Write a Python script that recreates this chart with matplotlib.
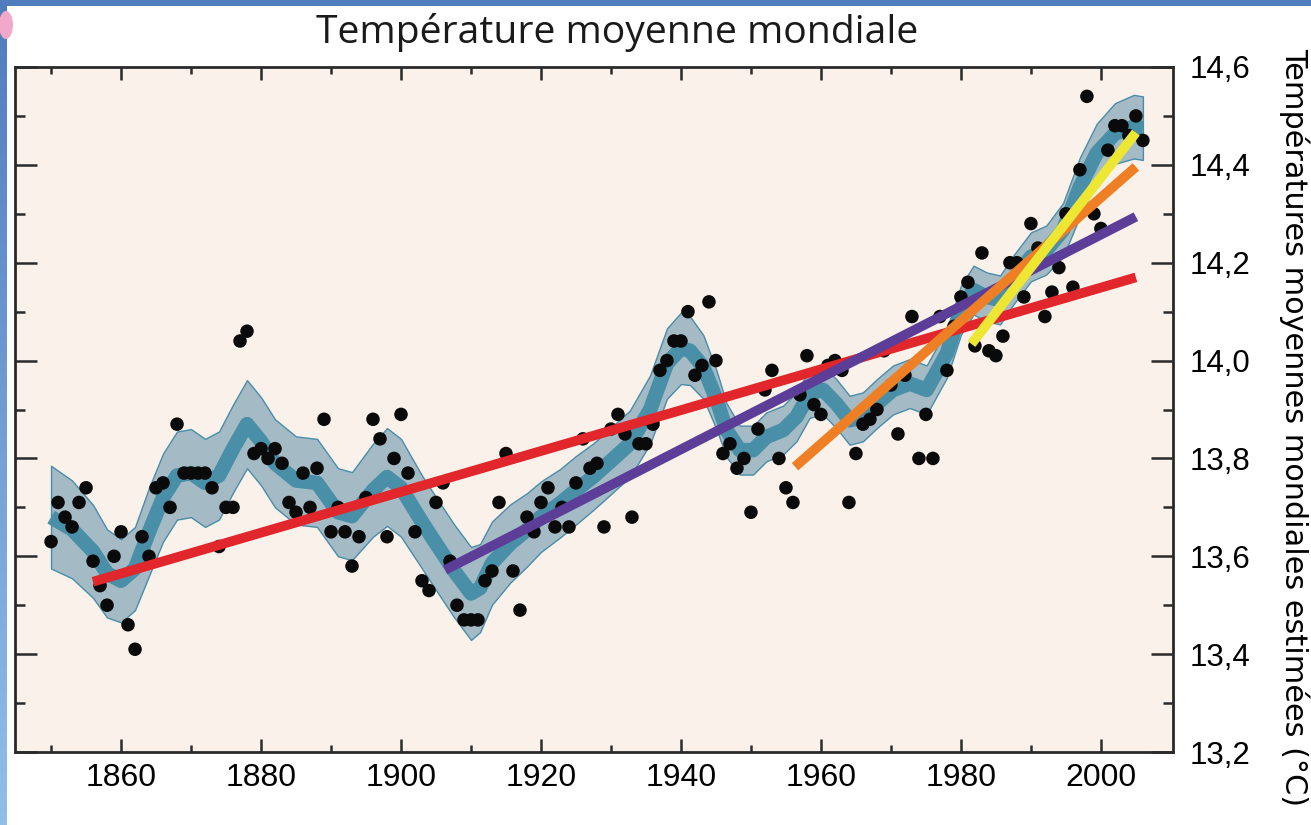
import matplotlib
matplotlib.use("Agg")
import matplotlib.pyplot as plt
from matplotlib.patches import Rectangle, Ellipse
import numpy as np

plt.rcParams["font.family"] = ["Liberation Sans", "DejaVu Sans"]

# ---------------- data ----------------
years = list(range(1850, 2007))
temps = [
    13.63, 13.71, 13.68, 13.66, 13.71, 13.74, 13.59, 13.54, 13.50, 13.60,   # 1850-1859
    13.65, 13.46, 13.41, 13.64, 13.60, 13.74, 13.75, 13.70, 13.87, 13.77,   # 1860-1869
    13.77, 13.77, 13.77, 13.74, 13.62, 13.70, 13.70, 14.04, 14.06, 13.81,   # 1870-1879
    13.82, 13.80, 13.82, 13.79, 13.71, 13.69, 13.77, 13.70, 13.78, 13.88,   # 1880-1889
    13.65, 13.70, 13.65, 13.58, 13.64, 13.72, 13.88, 13.84, 13.64, 13.80,   # 1890-1899
    13.89, 13.77, 13.65, 13.55, 13.53, 13.71, 13.75, 13.59, 13.50, 13.47,   # 1900-1909
    13.47, 13.47, 13.55, 13.57, 13.71, 13.81, 13.57, 13.49, 13.68, 13.65,   # 1910-1919
    13.71, 13.74, 13.66, 13.70, 13.66, 13.75, 13.84, 13.78, 13.79, 13.66,   # 1920-1929
    13.86, 13.89, 13.85, 13.68, 13.83, 13.83, 13.87, 13.98, 14.00, 14.04,   # 1930-1939
    14.04, 14.10, 13.97, 13.99, 14.12, 14.00, 13.81, 13.83, 13.78, 13.80,   # 1940-1949
    13.69, 13.86, 13.94, 13.98, 13.80, 13.74, 13.71, 13.93, 14.01, 13.91,   # 1950-1959
    13.89, 13.99, 14.00, 13.98, 13.71, 13.81, 13.87, 13.88, 13.90, 14.02,   # 1960-1969
    13.95, 13.85, 13.97, 14.09, 13.80, 13.89, 13.80, 14.09, 13.98, 14.07,   # 1970-1979
    14.13, 14.16, 14.03, 14.22, 14.02, 14.01, 14.05, 14.20, 14.20, 14.13,   # 1980-1989
    14.28, 14.23, 14.09, 14.14, 14.19, 14.30, 14.15, 14.39, 14.54, 14.30,   # 1990-1999
    14.27, 14.43, 14.48, 14.48, 14.46, 14.50, 14.45,                        # 2000-2006
]

# smoothed (decadal) curve, with half-width of the light band
smooth_years = [1850, 1853, 1856, 1858, 1860, 1862, 1864, 1866, 1868, 1870,
                1872, 1874, 1876, 1878, 1880, 1882, 1885, 1888, 1891, 1893,
                1896, 1898, 1900, 1903, 1905, 1907.5, 1910, 1911.3, 1913, 1915.6,
                1918, 1920, 1922.7, 1925, 1927.5, 1930, 1932.7, 1935.6, 1938, 1940,
                1941.3, 1943.2, 1945.1, 1946.5, 1948.4, 1950.3, 1952.2, 1954.6, 1956.5, 1958.4,
                1960.3, 1962.2, 1964.1, 1966, 1968, 1970.3, 1972.7, 1975.1, 1978, 1980,
                1981.8, 1983.7, 1985.6, 1987.5, 1990, 1992.2, 1994.6, 1997, 1999.4, 2002,
                2004.7, 2006]
smooth_vals = [13.68, 13.655, 13.61, 13.565, 13.55, 13.575, 13.65, 13.72, 13.765, 13.77,
               13.75, 13.765, 13.82, 13.87, 13.835, 13.79, 13.755, 13.75, 13.69, 13.682,
               13.735, 13.762, 13.74, 13.67, 13.626, 13.572, 13.524, 13.535, 13.586, 13.626,
               13.654, 13.681, 13.708, 13.735, 13.763, 13.795, 13.83, 13.90, 13.994, 14.025,
               14.02, 13.987, 13.919, 13.858, 13.817, 13.817, 13.844, 13.858, 13.885, 13.933,
               13.94, 13.912, 13.878, 13.885, 13.912, 13.94, 13.953, 13.94, 14.015, 14.103,
               14.144, 14.13, 14.124, 14.165, 14.212, 14.226, 14.267, 14.355, 14.424, 14.464,
               14.478, 14.475]
band_halfwidth = [0.105, 0.10, 0.095, 0.09, 0.085, 0.085, 0.09, 0.09, 0.09, 0.09,
                  0.09, 0.09, 0.09, 0.09, 0.09, 0.09, 0.09, 0.09, 0.09, 0.09,
                  0.095, 0.10, 0.10, 0.095, 0.095, 0.095, 0.095, 0.09, 0.085, 0.08,
                  0.075, 0.072, 0.07, 0.07, 0.068, 0.068, 0.068, 0.07, 0.072, 0.073,
                  0.07, 0.065, 0.06, 0.055, 0.05, 0.05, 0.05, 0.05, 0.05, 0.05,
                  0.05, 0.05, 0.05, 0.05, 0.05, 0.05, 0.05, 0.05, 0.05, 0.05,
                  0.05, 0.05, 0.05, 0.05, 0.05, 0.05, 0.055, 0.06, 0.06, 0.062,
                  0.065, 0.065]

# linear trends: (start year, start value), (end year, end value)
trend_red = [(1856, 13.548), (2005, 14.170)]
trend_purple = [(1906.3, 13.572), (2005, 14.294)]
trend_orange = [(1956.3, 13.783), (2005, 14.396)]
trend_yellow = [(1981.5, 14.034), (2005, 14.466)]

xticks = [1860, 1880, 1900, 1920, 1940, 1960, 1980, 2000]
xtick_labels = ["1860", "1880", "1900", "1920", "1940", "1960", "1980", "2000"]
yticks = [13.2, 13.4, 13.6, 13.8, 14.0, 14.2, 14.4, 14.6]
ytick_labels = ["13,2", "13,4", "13,6", "13,8", "14,0", "14,2", "14,4", "14,6"]

title = "Température moyenne mondiale"
ylabel = "Températures moyennes mondiales estimées (°C)"

# ---------------- figure ----------------
W, H = 1311, 825
fig = plt.figure(figsize=(W / 100, H / 100), dpi=100, facecolor="white")

# slide-like border (blue strips + small pink blob)
fig.patches.append(Ellipse((6 / W, 1 - 25 / H), 14 / W, 28 / H, transform=fig.transFigure,
                           facecolor="#F2A9C9", edgecolor="none", zorder=0))
grad = np.linspace(0, 1, 256).reshape(-1, 1)
axl = fig.add_axes([0, 0, 7 / W, 1])
axl.imshow(grad, aspect="auto", cmap=matplotlib.colors.LinearSegmentedColormap.from_list(
    "b", ["#4F7CBD", "#93BEEA"]), extent=[0, 1, 0, 1], origin="upper")
axl.set_axis_off()
fig.patches.append(Rectangle((0, 1 - 6 / H), 1, 6 / H, transform=fig.transFigure,
                             facecolor="#4F7DBE", edgecolor="none", zorder=5))

left, right, top, bottom = 15, 1173, 67, 752
ax = fig.add_axes([left / W, 1 - bottom / H, (right - left) / W, (bottom - top) / H])
ax.set_facecolor("#FAF2EA")

sy = np.array(smooth_years)
sv = np.array(smooth_vals)
hw = np.array(band_halfwidth)
ax.fill_between(sy, sv - hw, sv + hw, facecolor="#A4BAC5", edgecolor="#4A8DA8",
                linewidth=1.0, zorder=2)
ax.plot(sy, sv, color="#4A8FA8", linewidth=10.5, solid_joinstyle="round",
        solid_capstyle="butt", zorder=3)

ax.scatter(years, temps, s=95, color="#0A0A0A", edgecolors="none", zorder=4)

for tr, col, z in [(trend_red, "#E1262C", 5), (trend_purple, "#5C3E98", 6),
                   (trend_orange, "#EF7F25", 7), (trend_yellow, "#EDE734", 8)]:
    ax.plot([tr[0][0], tr[1][0]], [tr[0][1], tr[1][1]], color=col, linewidth=7,
            solid_capstyle="butt", zorder=z)

ax.set_xlim(1844.85, 2010.3)
ax.set_ylim(13.2, 14.6)

ax.set_xticks(xticks)
ax.set_xticklabels(xtick_labels)
ax.set_xticks(np.arange(1850, 2010, 20), minor=True)
ax.set_yticks(yticks)
ax.set_yticklabels(ytick_labels)
ax.set_yticks(np.arange(13.3, 14.6, 0.2), minor=True)

ax.tick_params(axis="x", which="major", direction="in", length=9.5, width=1.8,
               top=True, bottom=True, labelbottom=True, pad=8, colors="#2A2A2A",
               labelcolor="black", labelsize=23)
ax.tick_params(axis="x", which="minor", direction="in", length=5, width=1.8,
               top=True, bottom=True, colors="#2A2A2A")
ax.tick_params(axis="y", which="major", direction="in", length=16, width=1.8,
               left=True, right=True, labelleft=False, labelright=True, pad=12,
               colors="#2A2A2A", labelcolor="black", labelsize=22.5)
ax.tick_params(axis="y", which="minor", direction="in", length=7, width=1.8,
               left=True, right=True, colors="#2A2A2A")
for sp in ax.spines.values():
    sp.set_linewidth(2)
    sp.set_color("#2A2A2A")

fig.text(617 / W, 1 - 43 / H, title, ha="center", va="baseline",
         fontsize=28.2, family=["Open Sans", "DejaVu Sans"], color="#1A1A1A")
fig.text(1310 / W, 1 - 48 / H, ylabel, rotation=-90, ha="right", va="top",
         fontsize=21.8, family=["DejaVu Sans"], color="black")

fig.savefig("out.png", dpi=100, facecolor=fig.get_facecolor())
